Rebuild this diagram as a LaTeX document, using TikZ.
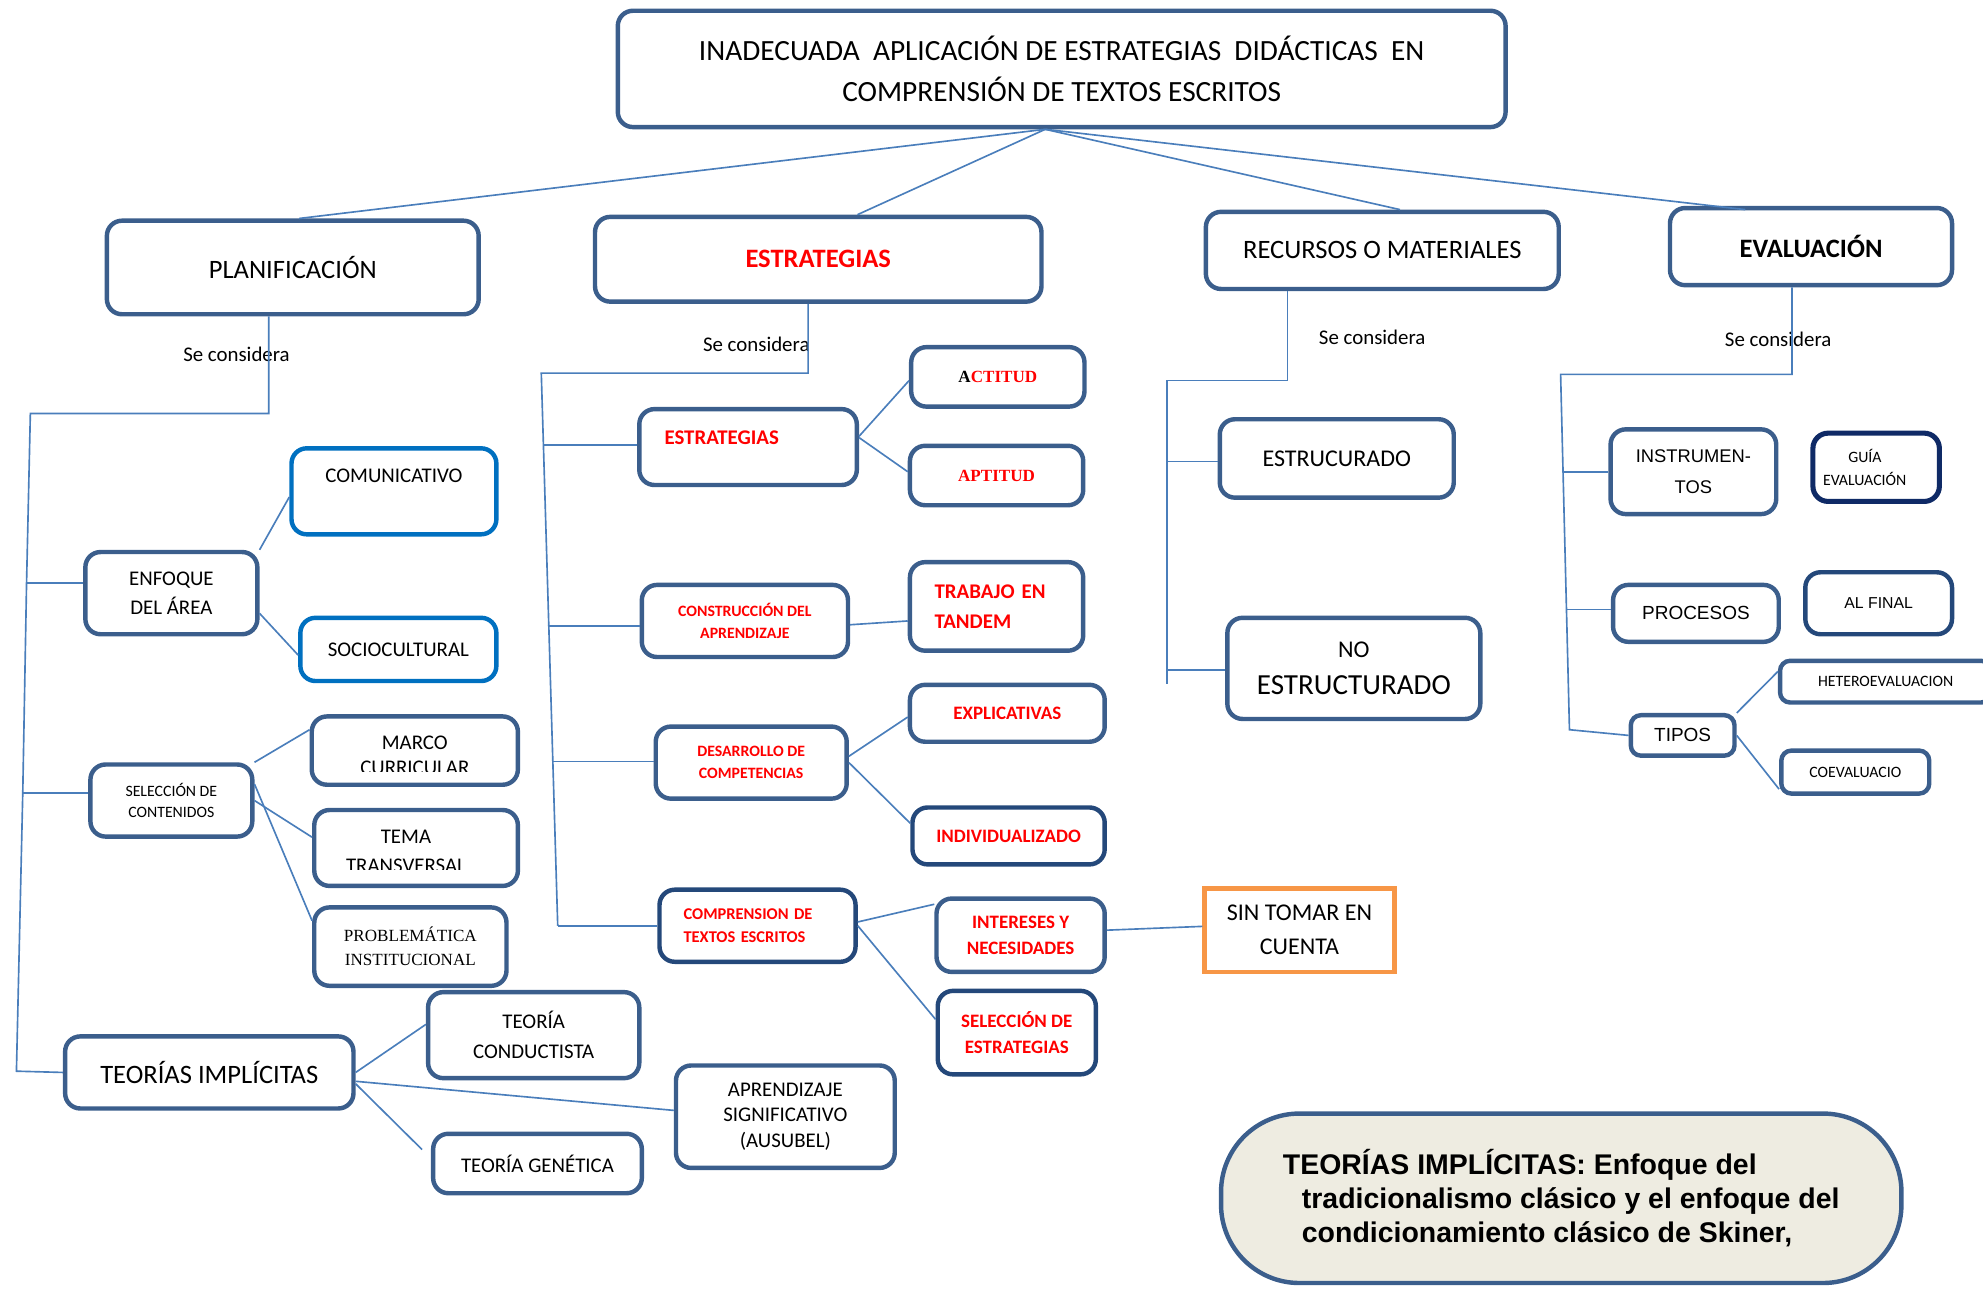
\documentclass[tikz,border=0pt]{standalone}
\usepackage{fontspec}
\setmainfont{Carlito}
\newfontfamily\arialfont{Liberation Sans}
\newfontfamily\cambriafont{Liberation Serif}
\usepackage{tikz}

\definecolor{boxblue}{HTML}{3B5E8C}
\definecolor{darkbox}{HTML}{24487A}
\definecolor{navybox}{HTML}{0F2A66}
\definecolor{lineblue}{HTML}{4A7EBB}
\definecolor{comblue}{HTML}{0070C0}
\definecolor{orangebox}{HTML}{F79646}
\definecolor{notefill}{HTML}{EEECE1}

\newcommand{\fsz}[2]{\fontsize{#1}{#2}\selectfont}

\tikzstyle{block} = [rectangle, draw=boxblue, line width=3.5pt, rounded corners=12pt,
fill=white, align=center, inner sep=2pt]
\tikzstyle{line} = [draw=lineblue, line width=1.3pt]
\tikzstyle{se} = [font=\fsz{16.5}{20}]

\begin{document}
\begin{tikzpicture}[x=1pt, y=-1pt]
  \useasboundingbox (0,0) rectangle (1568,1019);

          % Place nodes
    \node [block, minimum width=702pt, minimum height=92pt, font=\fsz{23.2}{32}] (top) at (839.5,54.5) {INADECUADA\ \ APLICACIÓN DE ESTRATEGIAS\ \ DIDÁCTICAS\ \ EN\\COMPRENSIÓN DE TEXTOS ESCRITOS};
    \node [block, minimum width=294pt, minimum height=74pt, font=\fsz{21}{25}] (plan) at (231.5,211.5) {PLANIFICACIÓN};
    \node [block, minimum width=353pt, minimum height=67pt, font=\fsz{21}{25}\bfseries, text=red] (estr) at (647,205) {ESTRATEGIAS};
    \node [block, minimum width=279pt, minimum height=61pt, font=\fsz{21}{25}] (recur) at (1093,198) {RECURSOS O MATERIALES};
    \node [block, minimum width=223pt, minimum height=61pt, font=\fsz{21}{25}\bfseries] (eval) at (1432,195) {EVALUACIÓN};
    \node [se] (se-plan) at (187,280) {Se considera};
    \node [se] (se-estr) at (598,272) {Se considera};
    \node [se] (se-recur) at (1085,267) {Se considera};
    \node [se] (se-eval) at (1406,268) {Se considera};

    % planificacion
    \node [block, minimum width=136pt, minimum height=65pt, font=\fsz{16.5}{23}] (enfoque) at (135.5,469) {ENFOQUE\\DEL ÁREA};
    \node [block, draw=comblue, minimum width=162pt, minimum height=68pt, font=\fsz{16.5}{20}, text height=11pt, text depth=25pt] (comun) at (311.5,388.5) {COMUNICATIVO};
    \node [block, draw=comblue, minimum width=155pt, minimum height=50pt, font=\fsz{16.5}{20}] (socio) at (315,513.5) {SOCIOCULTURAL};
    \node [block, minimum width=128pt, minimum height=57pt, font=\fsz{12.5}{17}] (selec) at (135.5,633) {SELECCIÓN DE\\CONTENIDOS};
    \node [block, minimum width=163pt, minimum height=54pt] (marco) at (328,593.5) {};
    \node [block, minimum width=161pt, minimum height=60pt] (tema) at (329,670.5) {};
    \begin{scope}
      \clip (marco.north west) rectangle ([yshift=12pt]marco.south east);
      \node [font=\fsz{16.5}{20}, align=center] (marco-t) at ([yshift=-3.5pt]marco.center) {MARCO\\CURRICULAR};
    \end{scope}
    \begin{scope}
      \clip (tema.north west) rectangle ([yshift=15pt]tema.south east);
      \node [font=\fsz{16.5}{23}, align=center, xshift=-8pt] (tema-t) at ([yshift=-3pt]tema.center) {TEMA\\TRANSVERSAL};
    \end{scope}
    \node [block, minimum width=152pt, minimum height=62pt, font=\cambriafont\fsz{13.5}{19}] (prob) at (324.5,748.5) {PROBLEMÁTICA\\INSTITUCIONAL};
    \node [block, minimum width=228pt, minimum height=57pt, font=\fsz{21}{25}] (teoimp) at (165.5,848) {TEORÍAS IMPLÍCITAS};
    \node [block, minimum width=167pt, minimum height=68pt, font=\fsz{16.5}{24}] (teocond) at (422,818.5) {TEORÍA\\CONDUCTISTA};
    \node [block, minimum width=165pt, minimum height=47pt, font=\fsz{16.5}{20}] (teogen) at (425,920) {TEORÍA GENÉTICA};
    \node [block, minimum width=173pt, minimum height=81pt, font=\fsz{16.5}{20.5}] (aprend) at (621,883) {APRENDIZAJE\\SIGNIFICATIVO\\(AUSUBEL)};

    % estrategias
    \node [block, minimum width=172pt, minimum height=60pt, font=\fsz{16.5}{20}\bfseries, text=red, text width=132pt, align=left, text height=11pt, text depth=15.5pt] (estrp) at (591.5,353.5) {ESTRATEGIAS};
    \node [block, minimum width=137pt, minimum height=47pt, font=\cambriafont\fsz{13.5}{16}\bfseries, text=red] (actit) at (789,298) {\textcolor{black}{A}CTITUD};
    \node [block, minimum width=137pt, minimum height=47pt, font=\cambriafont\fsz{13.5}{16}\bfseries, text=red] (aptit) at (788,376) {APTITUD};
    \node [block, minimum width=163pt, minimum height=57pt, font=\fsz{12.5}{17}\bfseries, text=red] (constr) at (589,491) {CONSTRUCCIÓN DEL\\APRENDIZAJE};
    \node [block, minimum width=137pt, minimum height=70pt, font=\fsz{16.5}{24}\bfseries, text=red, text width=98pt, align=left] (trabajo) at (788,479.5) {TRABAJO EN\\TANDEM};
    \node [block, minimum width=151pt, minimum height=57pt, font=\fsz{12.5}{17}\bfseries, text=red] (desarr) at (594,603) {DESARROLLO DE\\COMPETENCIAS};
    \node [block, minimum width=154pt, minimum height=45pt, font=\fsz{15}{18}\bfseries, text=red] (explic) at (796.5,564) {EXPLICATIVAS};
    \node [block, draw=darkbox, minimum width=152pt, minimum height=45pt, font=\fsz{15}{18}\bfseries, text=red] (indiv) at (797.5,661) {INDIVIDUALIZADO};
    \node [block, draw=darkbox, minimum width=155pt, minimum height=57pt, font=\fsz{13}{18}\bfseries, text=red, text width=117pt, align=left] (compr) at (599,732) {COMPRENSION DE\\TEXTOS ESCRITOS};
    \node [block, minimum width=133pt, minimum height=58pt, font=\fsz{15}{20}\bfseries, text=red] (inter) at (807,739.5) {INTERESES Y\\NECESIDADES};
    \node [block, draw=darkbox, minimum width=125pt, minimum height=66pt, font=\fsz{15}{20}\bfseries, text=red] (selest) at (804,816.5) {SELECCIÓN DE\\ESTRATEGIAS};
    \node [block, draw=orangebox, sharp corners, minimum width=150pt, minimum height=66pt, font=\fsz{19}{27}] (sintomar) at (1027.5,735.5) {SIN TOMAR EN\\CUENTA};

    % recursos
    \node [block, minimum width=185pt, minimum height=62pt, font=\fsz{19}{23}] (estruc) at (1057,362.5) {ESTRUCURADO};
    \node [block, minimum width=200pt, minimum height=80pt, font=\fsz{19}{29}] (noestr) at (1070.5,528.5) {NO\\\fsz{23}{29}ESTRUCTURADO};

    % evaluacion
    \node [block, minimum width=131pt, minimum height=67pt, font=\arialfont\fsz{14.5}{24}] (instr) at (1339,373) {INSTRUMEN-\\TOS};
    \node [block, draw=navybox, line width=4pt, minimum width=100pt, minimum height=54pt, font=\fsz{12.5}{18}, text width=84pt, align=left] (guia) at (1483.5,369.5) {\hspace*{20pt}GUÍA\\EVALUACIÓN};
    \node [block, minimum width=131pt, minimum height=45pt, font=\arialfont\fsz{15}{18}] (proc) at (1341,485) {PROCESOS};
    \node [block, draw=darkbox, minimum width=116pt, minimum height=49pt, font=\arialfont\fsz{12.5}{16}] (alfinal) at (1485.5,477) {AL FINAL};
    \node [block, rounded corners=8pt, minimum width=82pt, minimum height=32pt, font=\arialfont\fsz{15}{18}] (tipos) at (1330.5,581.5) {TIPOS};
    \node [block, rounded corners=8pt, minimum width=167pt, minimum height=33pt, font=\fsz{12.5}{16}] (hetero) at (1491,539) {HETEROEVALUACION};
    \node [block, rounded corners=8pt, minimum width=117pt, minimum height=34pt, font=\fsz{12.5}{16}] (coev) at (1467,610.5) {COEVALUACIO};

    \node [block, fill=notefill, rounded corners=62pt, minimum width=538pt, minimum height=134pt, font=\arialfont\bfseries\fsz{22.5}{27}, align=left] (nota) at (1234.5,947.5) {TEORÍAS IMPLÍCITAS: Enfoque del\\\hspace*{15pt}tradicionalismo clásico y el enfoque del\\\hspace*{15pt}condicionamiento clásico de Skiner,};

    % edges
    \coordinate (hub) at ([xshift=-13pt]top.south);
         \path [line] (hub) -- ([xshift=5pt]plan.north);
         \path [line] (hub) -- ([xshift=31pt]estr.north);
         \path [line] (hub) -- ([xshift=14pt]recur.north);
         \path [line] (hub) -- ([xshift=-52pt,yshift=-3pt]eval.north);

    \coordinate (pl1) at (24,327);
    \coordinate (pl2) at (21,461);
    \coordinate (pl3) at (18,627);
    \coordinate (pl4) at (13,847);
         \path [line] ([xshift=-19pt]plan.south) |- (pl1) -- (pl2) -- (pl3) -- (pl4) -- (teoimp.west);
         \path [line] (pl2) -- (pl2 -| enfoque.west);
         \path [line] (pl3) -- (pl3 -| selec.west);
         \path [line] (enfoque.north east) -- ([yshift=-4.5pt]comun.west);
         \path [line] ([yshift=-16pt]enfoque.east) -- ([yshift=-4.5pt]socio.west);
         \path [line] (selec.north east) -- ([yshift=16.5pt]marco.west);
         \path [line] (selec.east) -- ([yshift=8.5pt]tema.west);
         \path [line] ([yshift=13pt]selec.east) -- ([yshift=20.5pt]prob.west);
         \path [line] (teoimp.east) -- ([yshift=8.5pt]teocond.west);
         \path [line] ([yshift=-7pt]teoimp.east) -- ([yshift=5pt]aprend.west);
         \path [line] ([yshift=-9pt]teoimp.east) -- ([xshift=-7pt,yshift=11pt]teogen.west);

    \coordinate (pe1) at (428,295);
    \coordinate (pe2) at (429.7,352);
    \coordinate (pe3) at (433,495);
    \coordinate (pe4) at (437,602);
    \coordinate (pe5) at (441,732);
         \path [line] ([xshift=-8pt]estr.south) |- (pe1) -- (pe5);
         \path [line] (pe2) -- (pe2 -| estrp.west);
         \path [line] (pe3) -- (pe3 -| constr.west);
         \path [line] (pe4) -- (pe4 -| desarr.west);
         \path [line] (pe5) -- (pe5 -| compr.west);
         \path [line] ([yshift=8.5pt]estrp.east) -- ([yshift=-3pt]actit.west);
         \path [line] ([yshift=7.5pt]estrp.east) -- ([yshift=3pt]aptit.west);
         \path [line] ([yshift=-3pt]constr.east) -- ([yshift=-11.5pt]trabajo.west);
         \path [line] ([yshift=5pt]desarr.east) -- ([yshift=-3pt]explic.west);
         \path [line] (desarr.east) -- ([yshift=10pt]indiv.west);
         \path [line] ([yshift=3pt]compr.east) -- ([yshift=24.5pt]inter.west);
         \path [line] (compr.east) -- ([yshift=10.5pt]selest.west);
         \path [line] ([yshift=4pt]inter.east) -- ([yshift=3pt]sintomar.west);

    \coordinate (pr1) at (923,301);
    \coordinate (pr2) at (923,365);
    \coordinate (pr3) at (923,530);
    \coordinate (pr4) at (923,541);
         \path [line] ([xshift=-75pt]recur.south) |- (pr1) -- (pr4);
         \path [line] (pr2) -- (pr2 -| estruc.west);
         \path [line] (pr3) -- (pr3 -| noestr.west);

    \coordinate (pv1) at (1234,296);
    \coordinate (pv2) at (1236,373);
    \coordinate (pv3) at (1238.5,482);
    \coordinate (pv4) at (1241,577);
         \path [line] ([xshift=-15pt]eval.south) |- (pv1) -- (pv4) -- (tipos.west);
         \path [line] (pv2) -- (pv2 -| instr.west);
         \path [line] (pv3) -- (pv3 -| proc.west);
         \path [line] (tipos.north east) -- ([yshift=8pt]hetero.west);
         \path [line] (tipos.east) -- ([yshift=-13.5pt]coev.west);
  \end{tikzpicture}
\end{document}
